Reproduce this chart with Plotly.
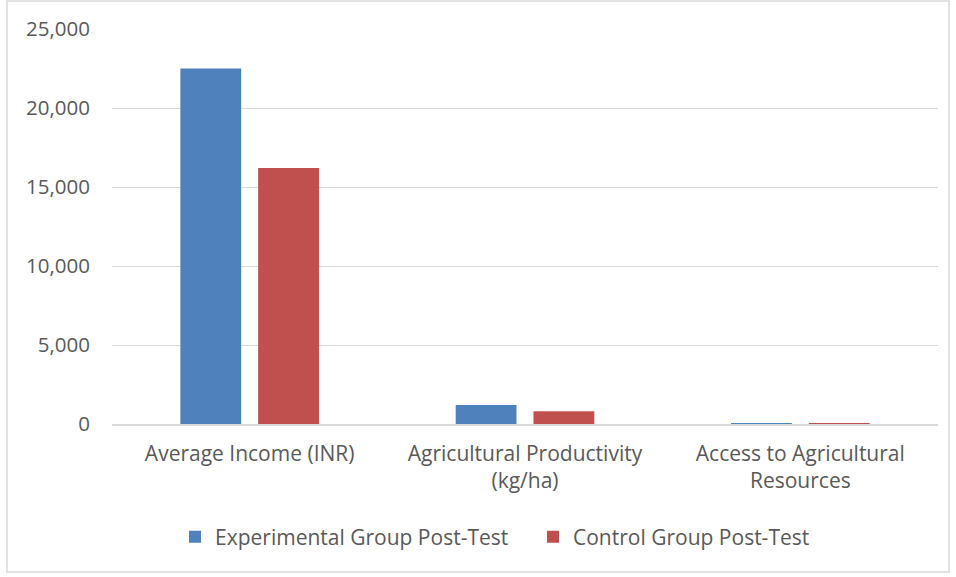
import plotly.graph_objects as go

categories = ["Average Income (INR)", "Agricultural Productivity<br>(kg/ha)", "Access to Agricultural<br>Resources"]
experimental = [22500, 1200, 4.2]
control = [16200, 800, 3.1]
series_names = ["Experimental Group Post-Test", "Control Group Post-Test"]
tick_vals = [0, 5000, 10000, 15000, 20000, 25000]
tick_text = ["0", "5,000", "10,000", "15,000", "20,000", "25,000"]

FONT = "Open Sans"
TXT = "#595959"
FS = 21

fig = go.Figure()
fig.add_trace(go.Bar(x=categories, y=experimental, name=series_names[0],
                     marker=dict(color="#4F81BD", line=dict(width=0))))
fig.add_trace(go.Bar(x=categories, y=control, name=series_names[1],
                     marker=dict(color="#C0504D", line=dict(width=0))))

W, H = 956, 577
L, R, T, B = 112, 18, 29, 153
pw, ph = W - L - R, H - T - B

def px2paper(x, y):
    return (x - L) / pw, (H - B - y) / ph

x0, y0 = px2paper(7, 572)
x1, y1 = px2paper(949, 1)

fig.update_layout(
    width=W, height=H,
    margin=dict(l=L, r=R, t=T, b=B, pad=0),
    paper_bgcolor="white", plot_bgcolor="white",
    barmode="group", bargap=0.435, bargroupgap=0.218,
    font=dict(family=FONT, size=FS, color=TXT),
    showlegend=True,
    legend=dict(orientation="h", x=px2paper(533, 0)[0], xanchor="center", y=px2paper(0, 537)[1], yanchor="middle",
                font=dict(family=FONT, size=FS, color=TXT), itemwidth=30, traceorder="normal",
                entrywidth=313, entrywidthmode="pixels"),
    xaxis=dict(showgrid=False, showline=True, linecolor="#d9d9d9", linewidth=1.5,
               ticks="", tickfont=dict(family=FONT, size=FS, color=TXT), ticklabelstandoff=10),
    yaxis=dict(range=[0, 25000], tickvals=tick_vals, ticktext=tick_text, showgrid=True,
               gridcolor="#d9d9d9", gridwidth=1, zeroline=False, showline=False,
               tickfont=dict(family=FONT, size=20.5, color=TXT), ticks="", ticklabelstandoff=21),
    shapes=[dict(type="rect", xref="paper", yref="paper", x0=x0, y0=y0, x1=x1, y1=y1,
                 line=dict(color="#d9d9d9", width=1.5), fillcolor="rgba(0,0,0,0)", layer="below")],
)

fig.write_html("out.html", config={"displayModeBar": False},
               post_script="document.body.style.margin='0';document.body.style.overflow='hidden';")
